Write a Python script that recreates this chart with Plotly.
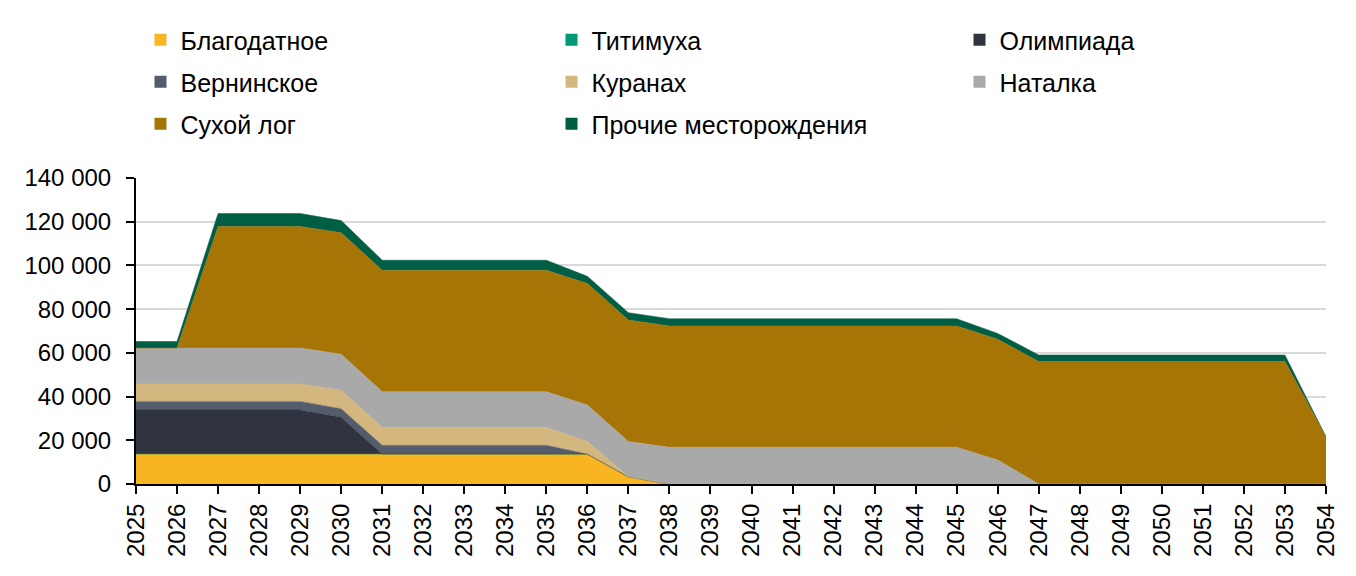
import plotly.graph_objects as go

years = list(range(2025, 2055))

blagodatnoe = [13700]*12 + [3300] + [0]*17
titimukha = [0]*30
olimpiada = [20200]*5 + [16800] + [0]*24
verninskoe = [3900]*6 + [4000]*5 + [0]*19
kuranakh = [8000]*5 + [8500] + [8200]*5 + [5700] + [0]*18
natalka = [16400]*5 + [16500] + [16300]*5 + [16700, 16100] + [16800]*8 + [11000] + [0]*8
sukhoy_log = [0, 0] + [55600]*11 + [55500]*8 + [55200] + [56000]*7 + [21600]
prochie = [3000]*2 + [6000]*3 + [5500] + [4600]*5 + [3300, 3400] + [3300]*8 + [2700] + [3000]*7 + [0]

names = ["Благодатное", "Титимуха", "Олимпиада", "Вернинское", "Куранах",
         "Наталка", "Сухой лог", "Прочие месторождения"]
series = [blagodatnoe, titimukha, olimpiada, verninskoe, kuranakh, natalka, sukhoy_log, prochie]
colors = ["#F9B521", "#009A77", "#2F3440", "#535D6B", "#D4B77E", "#A8A9A8", "#A67505", "#005E45"]

y_tickvals = [0, 20000, 40000, 60000, 80000, 100000, 120000, 140000]
y_ticktext = ["0", "20 000", "40 000", "60 000", "80 000", "100 000", "120 000", "140 000"]

FONT = "Liberation Sans, Arial, sans-serif"
FS = 24
LFS = 25

W, H = 1356, 576
ML, MR, MT, MB = 128, 38, 170, 100
PW = W - ML - MR
PH = H - MT - MB
PAGE_OFF = 8  # default body margin of the html page

def xpaper(page_px):
    return (page_px - PAGE_OFF - ML) / PW

def ypaper(page_px):
    return (H - MB - (page_px - PAGE_OFF)) / PH

fig = go.Figure()
for name, vals, col in zip(names, series, colors):
    fig.add_trace(go.Scatter(
        x=years, y=vals, name=name, stackgroup="one", mode="lines",
        line=dict(width=0.5, color=col), fillcolor=col, showlegend=False,
        hoverinfo="x+y+name",
    ))

# legend grid: 3 columns x 3 rows, row-major order
col_left = [140.5, 551.5, 959.5]
row_mid = [40, 82, 124]
legend_layout = {}
for i, (name, col) in enumerate(zip(names, colors)):
    lid = "legend" if i == 0 else f"legend{i+1}"
    r, c = divmod(i, 3)
    fig.add_trace(go.Scatter(
        x=[None], y=[None], name=name, mode="markers",
        marker=dict(symbol="square", size=12, color=col),
        legend=lid, showlegend=True,
    ))
    legend_layout[lid] = dict(
        orientation="h", x=xpaper(col_left[c]), xanchor="left",
        y=ypaper(row_mid[r]), yanchor="middle", traceorder="normal",
        font=dict(family=FONT, size=LFS, color="#000000"),
        bgcolor="rgba(0,0,0,0)", itemclick=False, itemdoubleclick=False,
    )

fig.update_layout(
    width=W, height=H,
    margin=dict(l=ML, r=MR, t=MT, b=MB, autoexpand=False),
    paper_bgcolor="white", plot_bgcolor="white",
    font=dict(family=FONT, size=FS, color="#000000"),
    xaxis=dict(range=[2025, 2054], tickmode="array", tickvals=years,
               ticktext=[str(y) for y in years], tickangle=-90,
               showgrid=False, showline=True, linecolor="#000000", linewidth=2,
               ticks="outside", ticklen=8, tickwidth=2, tickcolor="#000000",
               tickfont=dict(family=FONT, size=FS), zeroline=False, fixedrange=True),
    yaxis=dict(range=[0, 140000], tickmode="array", tickvals=y_tickvals,
               ticktext=y_ticktext, showgrid=True, gridcolor="#D9D9D9", gridwidth=1.5,
               showline=True, linecolor="#000000", linewidth=2,
               ticks="outside", ticklen=8, tickwidth=2, tickcolor="#000000",
               tickfont=dict(family=FONT, size=FS), zeroline=False,
               ticklabelstandoff=10, fixedrange=True),
    **legend_layout,
)

fig.write_html("out.html")
